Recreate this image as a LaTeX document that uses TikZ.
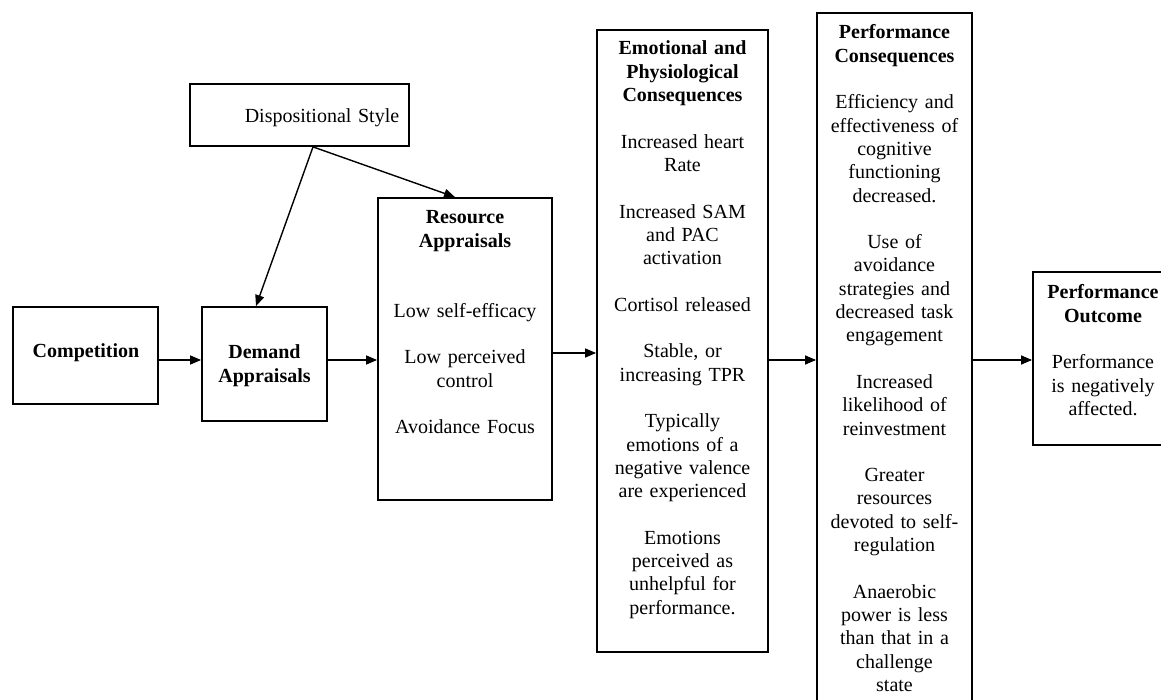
\documentclass[tikz,border=0pt]{standalone}
\usepackage{fontspec}
\setmainfont{Liberation Serif}
\usetikzlibrary{arrows.meta}
\begin{document}
\begin{tikzpicture}[x=1pt,y=-1pt,
  box/.style={draw,line width=1.8pt,inner sep=0pt,rectangle},
  txt/.style={inner sep=0pt,anchor=base,align=center,text width=#1,font=\fontsize{20}{23.3}\selectfont},
  txt/.default=170pt,
  arr/.style={line width=1.4pt,-{Triangle[length=11pt,width=9pt]}}]
\useasboundingbox (0,0) rectangle (1161,700);
% boxes
\node[box,minimum width=219pt,minimum height=62pt] (disp) at (299.5,115) {};
\node[box,minimum width=145pt,minimum height=97pt] (comp) at (85.5,355.5) {};
\node[box,minimum width=125pt,minimum height=114pt] (dem) at (264.5,364) {};
\node[box,minimum width=174pt,minimum height=302pt] (res) at (465,349) {};
\node[box,minimum width=171pt,minimum height=622pt] (emo) at (682.5,341) {};
\node[box,minimum width=155pt,minimum height=697pt] (pc) at (894.5,361.5) {};
\node[box,minimum width=147pt,minimum height=173pt] (out) at (1106.5,358.5) {};
% texts
\node[txt=215pt] (dispt) at (322,123) {Dispositional Style};
\node[txt=140pt] (compt) at (86,357) {\textbf{Competition}};
\node[txt=120pt] (demt) at (264.5,359) {\textbf{Demand}\\\textbf{Appraisals}};
\node[txt=170pt] (rest) at (465,224) {\textbf{Resource}\\\textbf{Appraisals}\\[46.6pt]
Low self-efficacy\\[23.3pt]
Low perceived\\control\\[23.3pt]
Avoidance Focus};
\node[txt=168pt] (emot) at (682.5,55) {\textbf{Emotional and}\\\textbf{Physiological}\\\textbf{Consequences}\\[23.3pt]
Increased heart\\Rate\\[23.3pt]
Increased SAM\\and PAC\\activation\\[23.3pt]
Cortisol released\\[23.3pt]
Stable, or\\increasing TPR\\[23.3pt]
Typically\\emotions of a\\negative valence\\are experienced\\[23.3pt]
Emotions\\perceived as\\unhelpful for\\performance.};
\node[txt=152pt] (pct) at (894.5,39) {\textbf{Performance}\\\textbf{Consequences}\\[23.3pt]
Efficiency and\\effectiveness of\\cognitive\\functioning\\decreased.\\[23.3pt]
Use of\\avoidance\\strategies and\\decreased task\\engagement\\[23.3pt]
Increased\\likelihood of\\reinvestment\\[23.3pt]
Greater\\resources\\devoted to self-\\regulation\\[23.3pt]
Anaerobic\\power is less\\than that in a\\challenge\\state};
\node[txt=140pt] (outt) at (1103,299) {\textbf{Performance}\\\textbf{Outcome}\\[23.3pt]
Performance\\is negatively\\affected.};
% connectors
\draw[arr] (comp.east |- 0,360) -- (dem.west |- 0,360);
\draw[arr] (dem.east |- 0,360) -- (res.west |- 0,360);
\draw[arr] (res.east |- 0,353) -- (emo.west |- 0,353);
\draw[arr] (emo.east |- 0,360) -- (pc.west |- 0,360);
\draw[arr] (pc.east |- 0,360) -- (out.west |- 0,360);
\draw[arr] ([xshift=13.5pt]disp.south) -- ([xshift=-8.5pt]dem.north);
\draw[arr] ([xshift=13.5pt]disp.south) -- ([xshift=-10pt]res.north);
\end{tikzpicture}
\end{document}
